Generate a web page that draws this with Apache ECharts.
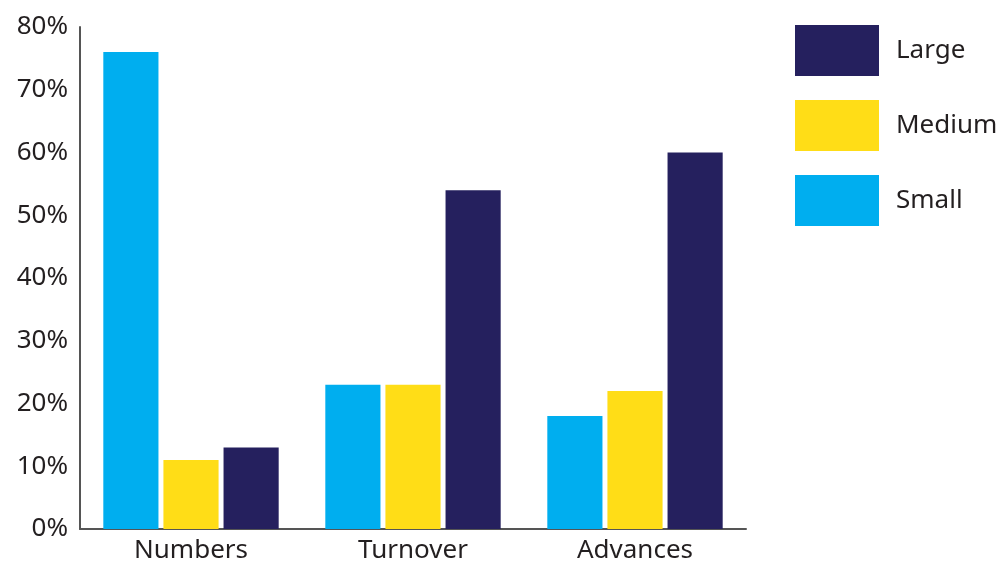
<!DOCTYPE html>
<html>
<head>
<meta charset="utf-8">
<script src="https://cdn.jsdelivr.net/npm/echarts@6/dist/echarts.min.js"></script>
<style>html,body{margin:0;padding:0;background:#fff;}#c{width:1006px;height:562px;}</style>
</head>
<body>
<div id="c"></div>
<script>
const categories = ['Numbers', 'Turnover', 'Advances'];
const small = [76, 23, 18];
const medium = [11, 23, 22];
const large = [13, 54, 60];
const yTicks = [0, 10, 20, 30, 40, 50, 60, 70, 80];

const font = 'Noto Sans';
const chart = echarts.init(document.getElementById('c'));
chart.setOption({
  animation: false,
  grid: { left: 80, right: 260, top: 27, bottom: 33, containLabel: false, outerBoundsMode: 'none' },
  legend: {
    data: ['Large', 'Medium', 'Small'],
    orient: 'vertical',
    left: 790,
    top: 20,
    itemWidth: 84,
    itemHeight: 51,
    itemGap: 24,
    icon: 'rect',
    textStyle: { fontFamily: font, fontSize: 26, color: '#231f20', padding: [0, 0, 0, 12] }
  },
  xAxis: {
    type: 'category',
    data: categories,
    axisLine: { lineStyle: { color: '#555', width: 2 } },
    axisTick: { show: false },
    axisLabel: { fontFamily: font, fontSize: 26, color: '#231f20', margin: 9 }
  },
  yAxis: {
    type: 'value',
    min: yTicks[0],
    max: yTicks[yTicks.length - 1],
    interval: 10,
    axisLine: { show: true, lineStyle: { color: '#555', width: 2 } },
    axisTick: { show: false },
    splitLine: { show: false },
    axisLabel: { fontFamily: font, fontSize: 26, color: '#231f20', margin: 12, formatter: v => v + '%' }
  },
  series: [
    { name: 'Small', type: 'bar', data: small, barCategoryGap: '21%', barGap: '9%', itemStyle: { color: '#00aeef' } },
    { name: 'Medium', type: 'bar', data: medium, itemStyle: { color: '#ffdd17' } },
    { name: 'Large', type: 'bar', data: large, itemStyle: { color: '#25205e' } }
  ]
});
</script>
</body>
</html>
